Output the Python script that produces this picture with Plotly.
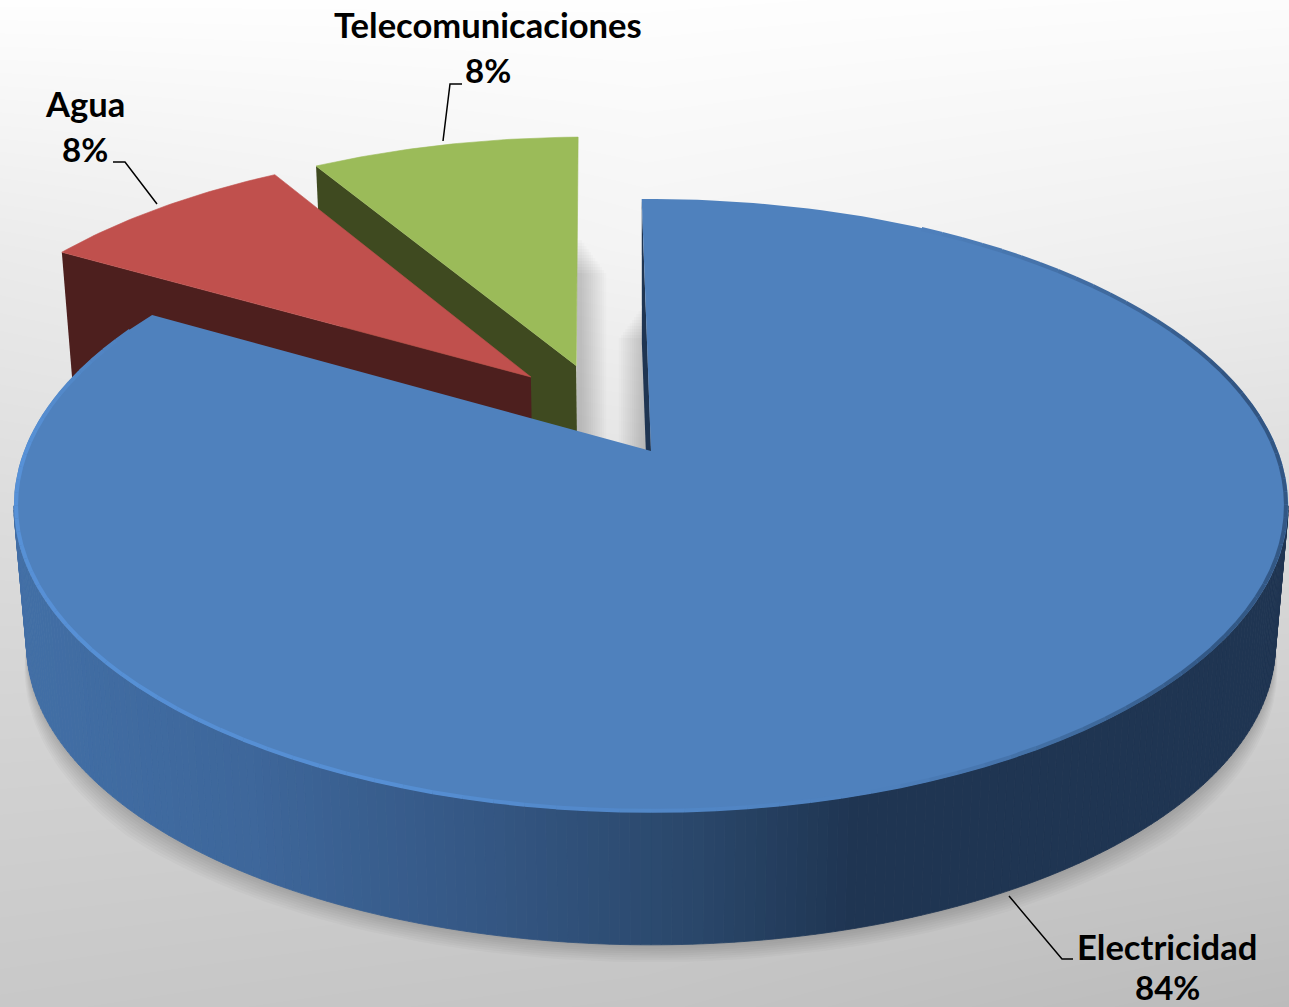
import math
import plotly.graph_objects as go

# --- data ---
categories = ["Electricidad", "Agua", "Telecomunicaciones"]
values = [83.6, 8.0, 8.4]
top_colors = ["#4f81bd", "#c0504d", "#9bbb59"]
wall_colors = ["#1f3552", "#4d1f1e", "#3f4a20"]

# pull of each slice in the plane of the pie (unit radius)
pull_u = [0.0, -0.2005, -0.1257]
pull_v = [0.0, -0.261, -0.303]
start_angle = -1.0

# background grey levels (rows top to bottom, columns left to right)
bg_x = [0, 645, 1289]
bg_y = [0, 250, 500, 750, 1007]
bg_z = [[254, 254, 252],
        [235, 244, 238],
        [221, 226, 220],
        [210, 208, 204],
        [200, 196, 187]]

# --- projection of the pie plane onto the page ---
CX, CY = 651.0, 451.0
R, A, B = 627.0, 0.178, 296.8
DEPTH, SHRINK = 140.0, 0.02


def project(u, v, h=0.0, grow=0.0):
    d = 1 - A * v
    sc = 1 - SHRINK * h + grow
    return CX + R * u / d * sc, CY + B * v / d * sc + DEPTH * h


def rim(theta, slice_i=0, h=0.0, grow=0.0):
    t = math.radians(theta)
    return project(math.sin(t) + pull_u[slice_i], -math.cos(t) + pull_v[slice_i], h, grow)


def apex(slice_i, h=0.0):
    return project(pull_u[slice_i], pull_v[slice_i], h)


def lerp(stops, t):
    for (t0, c0), (t1, c1) in zip(stops, stops[1:]):
        if t <= t1:
            f = max(0.0, (t - t0) / (t1 - t0))
            return "rgb(%d,%d,%d)" % tuple(c0[k] + (c1[k] - c0[k]) * f for k in range(3))
    return "rgb(%d,%d,%d)" % stops[-1][1]


fig = go.Figure()
fig.add_trace(go.Heatmap(x=bg_x, y=bg_y, z=bg_z, zmin=0, zmax=255, zsmooth="best",
                         colorscale=[[0, "#000000"], [1, "#ffffff"]], showscale=False,
                         hoverinfo="skip"))


def poly(pts, color, lw=0.0, lc=None):
    xs, ys = zip(*pts)
    fig.add_trace(go.Scatter(x=list(xs) + [xs[0]], y=list(ys) + [ys[0]], mode="lines",
                             fill="toself", fillcolor=color,
                             line=dict(width=lw, color=lc or color),
                             hoverinfo="skip", showlegend=False))


def steps(a, b, n):
    return [a + (b - a) * i / n for i in range(n + 1)]


# angular spans, clockwise from the top; the small slices run backwards from the start
te_b = start_angle
te_a = te_b - values[2] * 3.6
ag_b = te_a
ag_a = ag_b - values[1] * 3.6
slice_span = {1: (ag_a, ag_b), 2: (te_a, te_b)}
el_a, el_b = start_angle, ag_a + 360

# soft shadows in the gap
for i in range(12):
    poly([(577, 240 + i * 3), (580 + 2.2 * (i + 1), 240 + i * 3), (580 + 2.2 * (i + 1), 440), (577, 440)],
         "rgba(0,0,0,0.016)")
    poly([(645 - 2.2 * (i + 1), 305 + i * 3), (647, 305 + i * 3), (652, 460), (645 - 2.2 * (i + 1), 460)],
         "rgba(0,0,0,0.016)")

# green then red exploded slices
for i in (2, 1):
    a, b = slice_span[i]
    wall = [rim(a, i), apex(i), apex(i, 1.0), rim(a, i, 1.0)]
    poly(wall, wall_colors[i])
    poly([apex(i)] + [rim(t, i) for t in steps(a, b, 40)], top_colors[i], 0.6, top_colors[i])

# halo under the large slice, tapering to nothing at both ends
for k in range(8):
    g = 0.006 + k * 0.006
    pts = []
    for t in steps(100, 260, 120):
        taper = min(1.0, (t - 100) / 35.0, (260 - t) / 35.0)
        pts.append(rim(t, 0, 1.0, g * taper))
    poly(pts, "rgba(0,0,0,0.024)")

# curved wall of the large slice, shaded from left to right
wall_stops = [(20, (66, 111, 166)), (250, (62, 103, 155)), (500, (52, 86, 130)),
              (700, (42, 71, 106)), (860, (31, 53, 82)), (1290, (31, 53, 82))]
ts = steps(100.3, 259.7, 200)
for t0, t1 in zip(ts, ts[1:]):
    x0 = rim((t0 + t1) / 2)[0]
    c = lerp(wall_stops, x0)
    poly([rim(t0), rim(t1), rim(t1, 0, 1.0), rim(t0, 0, 1.0)], c, 0.8, c)

# radial wall and top of the large slice
poly([apex(0), rim(start_angle), rim(start_angle, 0, 1.0), apex(0, 1.0)], wall_colors[0])
poly([apex(0)] + [rim(t) for t in steps(el_a, el_b, 200)], top_colors[0])

# rim bevel, kept inside the top face: dark on the right, light on the left
rim_stops = [(30, (79, 129, 189)), (75, (50, 85, 130)), (130, (52, 90, 136)), (162, (79, 129, 189)),
             (200, (86, 143, 212)), (270, (88, 146, 216)), (296, (79, 129, 189))]
rs = steps(30, 296, 110)
for t0, t1 in zip(rs, rs[1:]):
    p0, p1 = rim(t0, 0, 0, -0.0035), rim(t1, 0, 0, -0.0035)
    fig.add_trace(go.Scatter(x=[p0[0], p1[0]], y=[p0[1], p1[1]], mode="lines",
                             line=dict(width=4, color=lerp(rim_stops, (t0 + t1) / 2)),
                             hoverinfo="skip", showlegend=False))

# labels
label_pos = {"Electricidad": (1167, 946), "Agua": (85, 103), "Telecomunicaciones": (488, 24)}
pct_pos = {"Electricidad": (1167, 987), "Agua": (85, 149), "Telecomunicaciones": (488, 70)}
name_font = dict(family="Lato", size=34.6, color="#000000")
pct_font = dict(family="Lato", size=33, color="#000000")
annotations = []
for name, val in zip(categories, values):
    annotations.append(dict(x=label_pos[name][0], y=label_pos[name][1], xref="x", yref="y",
                            text="<b>%s</b>" % name, showarrow=False, xanchor="center",
                            yanchor="middle", font=name_font))
    annotations.append(dict(x=pct_pos[name][0], y=pct_pos[name][1], xref="x", yref="y",
                            text="<b>%d%%</b>" % round(val), showarrow=False, xanchor="center",
                            yanchor="middle", font=pct_font))

leaders = ["M443,141 L450,84 L462,84", "M157,204 L125,162 L113,162", "M1009,896 L1062,959 L1073,959"]
shapes = [dict(type="path", path=p, xref="x", yref="y", line=dict(color="#000000", width=1.5)) for p in leaders]

fig.update_layout(
    width=1289, height=1007, margin=dict(l=0, r=0, t=0, b=0), showlegend=False,
    paper_bgcolor="#ffffff", plot_bgcolor="#ffffff",
    xaxis=dict(range=[0, 1289], visible=False, fixedrange=True),
    yaxis=dict(range=[1007, 0], visible=False, fixedrange=True),
    annotations=annotations, shapes=shapes,
)
fig.write_html("out.html", config=dict(displayModeBar=False),
               post_script="document.body.style.margin='0';document.body.style.overflow='hidden';")
